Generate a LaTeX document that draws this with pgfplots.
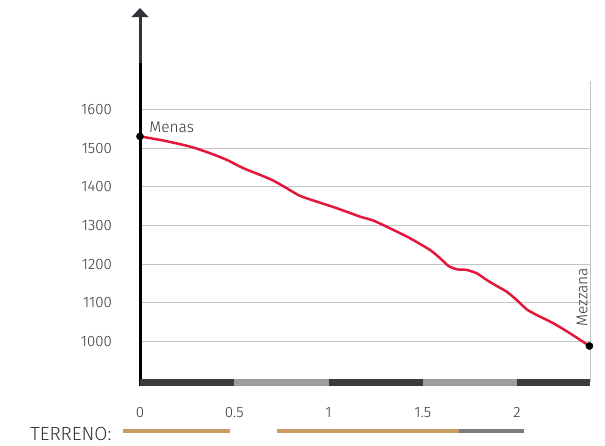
\documentclass[border=0pt]{standalone}
\usepackage{fontspec}
\setmainfont{Fira Sans Light}
\usepackage{pgfplots}
\pgfplotsset{compat=1.18}
\usetikzlibrary{arrows.meta}
\definecolor{gridc}{HTML}{C4C4C4}
\definecolor{barDark}{HTML}{3C3C3C}
\definecolor{barLight}{HTML}{9D9D9D}
\definecolor{profile}{HTML}{E3173B}
\definecolor{tan}{HTML}{C99B63}
\definecolor{terrgray}{HTML}{7C7C7C}
\definecolor{txt}{HTML}{333333}
\definecolor{axtop}{HTML}{2E3338}
\begin{document}
\begin{tikzpicture}[x=1pt,y=1pt]
\useasboundingbox (0,0) rectangle (605,446);
\begin{axis}[
  at={(140pt,63.5pt)}, anchor=south west,
  scale only axis, width=450pt, height=374.5pt,
  xmin=0, xmax=2.387, ymin=894.7, ymax=1861.6,
  axis line style={draw=none},
  major tick length=0pt,
  clip=false,
  xtick={0,0.5,1,1.5,2},
  ytick={1000,1100,1200,1300,1400,1500,1600},
  ymajorgrids, grid style={gridc, line width=1pt},
  /pgf/number format/assume math mode=true,
  /pgf/number format/1000 sep={},
  xticklabel style={anchor=center, inner sep=0pt, yshift=-30pt, font=\fontsize{15}{17}\selectfont, text=txt},
  yticklabel style={anchor=east, inner sep=0pt, xshift=-28pt, font=\fontsize{15}{17}\selectfont, text=txt},
]
% right vertical gridline
\draw[gridc, line width=1pt] (axis cs:2.387,894.7) -- (axis cs:2.387,1673);
% y axis line with arrow
\draw[black, line width=3pt] (axis cs:0,885.6) -- (axis cs:0,1720);
\draw[axtop, line width=3pt, -{Triangle[width=16.5pt,length=9pt]}] (axis cs:0,1719) -- (axis cs:0,1861.6);
% bottom bar
\addplot[barDark, line width=7pt, no marks] coordinates {(0,894.7)(0.5,894.7)};
\addplot[barLight, line width=7pt, no marks] coordinates {(0.5,894.7)(1,894.7)};
\addplot[barDark, line width=7pt, no marks] coordinates {(1,894.7)(1.5,894.7)};
\addplot[barLight, line width=7pt, no marks] coordinates {(1.5,894.7)(2,894.7)};
\addplot[barDark, line width=7pt, no marks] coordinates {(2,894.7)(2.387,894.7)};
% terrain bars
\addplot[tan, line width=4.5pt, no marks] coordinates {(-0.088,769.6)(0.476,769.6)};
\addplot[tan, line width=4.5pt, no marks] coordinates {(0.726,769.6)(1.692,769.6)};
\addplot[terrgray, line width=4.5pt, no marks] coordinates {(1.692,769.6)(2.036,769.6)};
% elevation profile
\addplot[profile, line width=2.5pt, smooth, tension=0.4, no marks] coordinates {
(0,1530)(0.124,1519.4)(0.265,1503.9)(0.371,1486.8)(0.460,1469.5)(0.548,1448.1)
(0.637,1430.7)(0.707,1416)(0.778,1396.4)(0.849,1376.5)(0.937,1361.8)(1.044,1344.7)
(1.167,1323)(1.238,1312.7)(1.344,1288.6)(1.432,1267.2)(1.538,1237)(1.592,1215.5)
(1.636,1195.6)(1.680,1187)(1.733,1185.3)(1.786,1176.7)(1.839,1159.4)(1.892,1143.9)
(1.945,1129.2)(1.998,1107.8)(2.051,1083.7)(2.104,1069)(2.193,1047.5)(2.281,1021.7)
(2.384,989)};
% end points
\addplot[only marks, mark=*, mark size=3.6pt, black] coordinates {(0,1530)(2.384,989)};
% labels
\node[anchor=base west, inner sep=0pt, text=txt, font=\fontsize{15.5}{17}\selectfont] at (axis cs:0.049,1540.7) {Menas};
\node[anchor=base west, inner sep=0pt, rotate=90, text=txt, font=\fontsize{15.5}{17}\selectfont] at (axis cs:2.373,1038.7) {Mezzana};
\node[anchor=base east, inner sep=0pt, text=txt, font=\fontsize{19}{21}\selectfont] at (axis cs:-0.150,745) {TERRENO:};
\end{axis}
\end{tikzpicture}
\end{document}
